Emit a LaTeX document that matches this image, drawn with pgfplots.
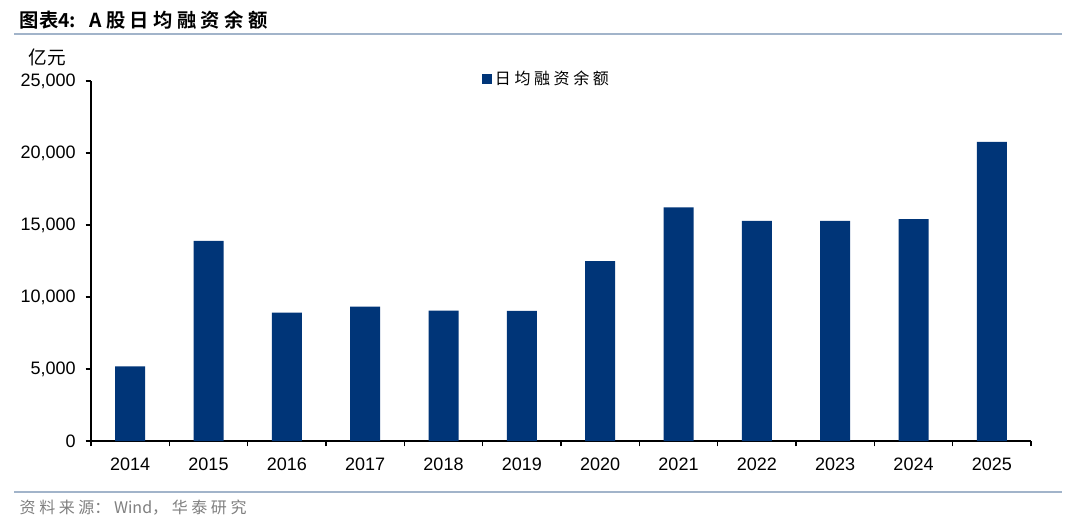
\documentclass[border=0pt]{standalone}
\usepackage{pgfplots}
\pgfplotsset{compat=1.18}
\usepackage{fontspec}
\setmainfont{Liberation Sans}
\newfontfamily\cjk[BoldFont={Noto Sans CJK SC Bold}]{Noto Sans CJK SC}
\definecolor{barblue}{RGB}{0,53,120}
\definecolor{rulec}{RGB}{162,180,202}
\definecolor{srcgray}{RGB}{128,128,128}
\begin{document}
\begin{tikzpicture}[x=0.75pt,y=0.75pt]
\useasboundingbox (0,0) rectangle (1080,525);
\path[fill=white] (0,0) rectangle (1080,525);
% title
\node[anchor=west,font=\cjk\bfseries\fontsize{14.5pt}{15pt}\selectfont] at (15,505) {图表4:\ \ \ A 股 日 均 融 资 余 额};
\draw[rulec,line width=1.6pt] (14,491) -- (1062,491);
\draw[rulec,line width=1.6pt] (14,33) -- (1062,33);
\node[anchor=west,font=\cjk\fontsize{12pt}{13pt}\selectfont,text=srcgray] at (15,17) {资 料 来 源： Wind， 华 泰 研 究};
\node[anchor=center,font=\cjk\fontsize{14pt}{15pt}\selectfont] at (47,468) {亿元};
\begin{axis}[
  at={(68.25pt,63pt)}, anchor=south west,
  scale only axis, width=705pt, height=270pt,
  xmin=-0.5, xmax=11.5, ymin=0, ymax=25000,
  axis x line*=bottom, axis y line*=left,
  axis line style={black, line width=1pt},
  xtick={0,...,11},
  xticklabels={2014,2015,2016,2017,2018,2019,2020,2021,2022,2023,2024,2025},
  major x tick style={draw=none},
  minor xtick={-0.5,0.5,...,11.5},
  minor x tick style={black, line width=1pt},
  minor tick length=4pt,
  tick align=outside,
  ytick={0,5000,...,25000},
  major y tick style={black, line width=1pt},
  major tick length=4pt,
  scaled y ticks=false,
  /pgf/number format/.cd, 1000 sep={,}, assume math mode=true,
  /pgfplots/.cd,
  tick label style={font=\fontsize{13.5pt}{14pt}\selectfont},
  xticklabel style={yshift=-5.5pt},
  yticklabel style={xshift=-4pt},
  legend style={at={(0.416,1.005)}, anchor=west, draw=none, fill=none,
    font=\cjk\fontsize{12pt}{13pt}\selectfont, inner sep=0pt},
  ybar, bar width=22.5pt,
  legend image code/.code={\fill[barblue] (0pt,-3.75pt) rectangle (7.5pt,3.75pt);},
  clip=false,
]
\addplot[fill=barblue, draw=none] coordinates {
(0,5190) (1,13890) (2,8910) (3,9330) (4,9050) (5,9040)
(6,12500) (7,16230) (8,15280) (9,15280) (10,15400) (11,20780)};
\addlegendentry{日 均 融 资 余 额}
\end{axis}
\end{tikzpicture}
\end{document}
